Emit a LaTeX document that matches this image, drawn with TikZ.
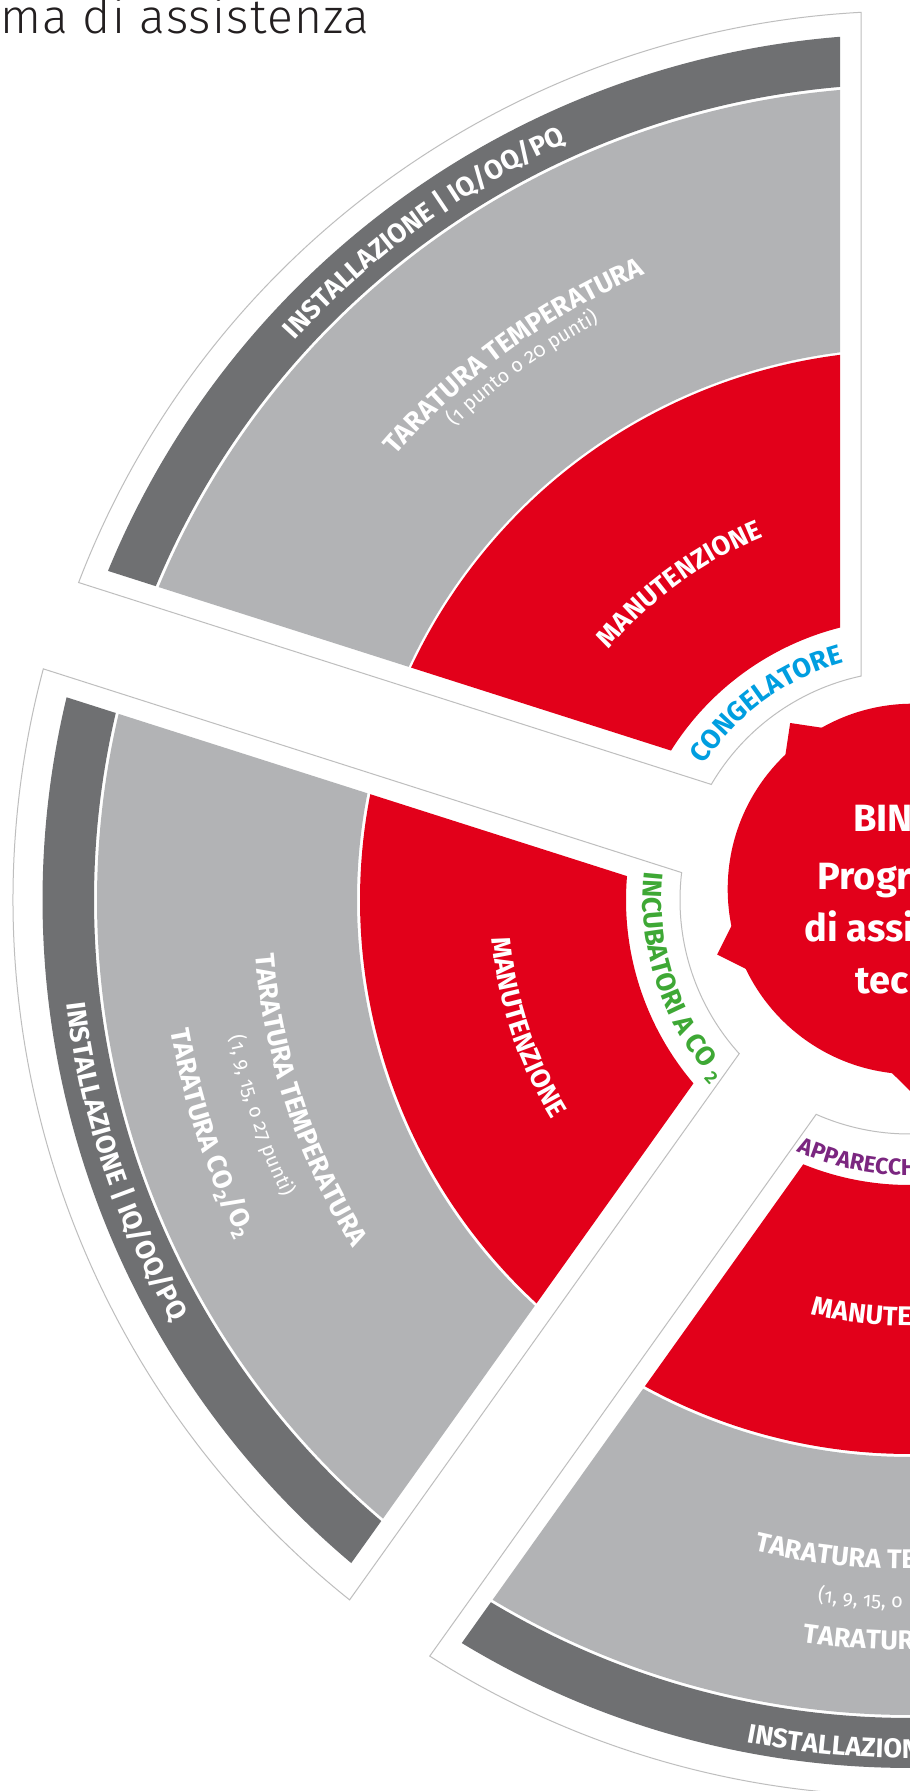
\documentclass[tikz,border=0pt]{standalone}
\usepackage{fontspec}
\setmainfont{Fira Sans}
\newfontfamily\firaold{Fira Sans}[Numbers=OldStyle]
\newfontfamily\titlefont{Fira Sans Light}[LetterSpace=2.5]
\usetikzlibrary{decorations.text}
\definecolor{bred}{RGB}{226,0,26}
\definecolor{bdark}{RGB}{111,112,114}
\definecolor{blight}{RGB}{178,179,181}
\definecolor{bline}{RGB}{190,190,190}
\definecolor{bblue}{RGB}{0,158,224}
\definecolor{bgreen}{RGB}{62,168,53}
\definecolor{bpurple}{RGB}{123,38,128}
\definecolor{titlecol}{RGB}{35,31,32}
\newcommand{\fmtW}{\color{white}\bfseries\fontsize{13.5}{14}\selectfont}
\newcommand{\fmtS}{\color{white}\firaold\fontsize{10}{11}\selectfont}
\newcommand{\fmtB}{\color{bblue}\bfseries\fontsize{13.5}{14}\selectfont}
\newcommand{\fmtGr}{\color{bgreen}\bfseries\fontsize{13.5}{14}\selectfont}
\newcommand{\fmtP}{\color{bpurple}\bfseries\fontsize{11.5}{12}\selectfont}
\newcommand{\subtwo}{\raisebox{-3pt}{\fontsize{9}{9}\selectfont 2}}
% sector shape: #1 style, #2 a1, #3 h1, #4 a2, #5 h2, #6 rin, #7 rout
\newcommand{\secshape}[7]{%
  \pgfmathsetmacro{\secA}{#2+asin(#3/#7)}%
  \pgfmathsetmacro{\secB}{#4-asin(#5/#7)}%
  \pgfmathsetmacro{\secC}{#4-asin(#5/#6)}%
  \pgfmathsetmacro{\secD}{#2+asin(#3/#6)}%
  \path[#1] (\secA:#7) arc[start angle=\secA, end angle=\secB, radius=#7]
     -- (\secC:#6) arc[start angle=\secC, end angle=\secD, radius=#6] -- cycle;}
% text on arc: #1 radius, #2 from, #3 to, #4 align, #5 text
\newcommand{\ctext}[5]{%
  \path[decorate,decoration={text along path,text format delimiters={[}{]},
     text align=#4,text={#5}}] (#2:#1) arc[start angle=#2,end angle=#3,radius=#1];}
\begin{document}
\begin{tikzpicture}[x=0.5pt,y=0.5pt]
\useasboundingbox (-909,-891) rectangle (0,900);
\fill[white] (-909,-891) rectangle (0,900);
\node[anchor=base west,inner sep=0,font=\titlefont\fontsize{24}{25}\selectfont,text=titlecol] (title) at (-909,866.7) {ma di assistenza};

% ---------- top sector: congelatore ----------
\secshape{fill=white,draw=bline,line width=0.5pt}{90}{48}{162.3}{50}{229}{889}
\secshape{fill=bdark}{90}{69}{162.3}{70}{816}{866}
\secshape{fill=blight}{90}{69}{162.3}{70}{552}{813}
\secshape{fill=bred}{90}{69}{162.3}{70}{281}{549.5}
\ctext{831}{175}{77}{center}{[\fmtW]INSTALLAZIONE | IQ/OQ/PQ}
\ctext{679}{175}{77}{center}{[\fmtW]TARATURA TEMPERATURA}
\ctext{656}{175}{77}{center}{[\fmtS](1 punto o 20 punti)}
\ctext{391}{175}{77}{center}{[\fmtW]MANUTENZIONE}
\ctext{246}{175}{77}{center}{[\fmtB]CONGELATORE}

% ---------- left sector: incubatori ----------
\secshape{fill=white,draw=bline,line width=0.5pt}{162.3}{43}{234.5}{49}{229}{896}
\secshape{fill=bdark}{162.3}{63}{234.5}{69}{815}{866.5}
\secshape{fill=blight}{162.3}{63}{234.5}{69}{552}{812}
\secshape{fill=bred}{162.3}{63}{234.5}{69}{283}{549}
\ctext{849}{150}{246.8}{center}{[\fmtW]INSTALLAZIONE | IQ/OQ/PQ}
\ctext{656}{150}{246.8}{center}{[\fmtW]TARATURA TEMPERATURA}
\ctext{693}{150}{246.8}{center}{[\fmtS](1, 9, 15, o 27 punti)}
\ctext{750}{150}{246.8}{center}{[\fmtW]TARATURA CO{\subtwo}/O{\subtwo}}
\ctext{419}{150}{246.8}{center}{[\fmtW]MANUTENZIONE}
\ctext{266}{150}{246.8}{center}{[\fmtGr]INCUBATORI A CO {\subtwo}}

% ---------- bottom sector: apparecchi ----------
\begin{scope}[shift={(0,-5)}]
\secshape{fill=white,draw=bline,line width=0.5pt}{234.5}{46}{305.5}{46}{229}{891}
\secshape{fill=bdark}{234.5}{64.5}{305.5}{64.5}{813}{863}
\secshape{fill=blight}{234.5}{64.5}{305.5}{64.5}{552}{810}
\secshape{fill=bred}{234.5}{64.5}{305.5}{64.5}{280}{549}
\ctext{853}{259}{300}{left}{[\fmtW]INSTALLAZION}
\ctext{664}{256.5}{300}{left}{[\fmtW]TARATURA TE}
\ctext{703}{262.5}{300}{left}{[\fmtS](1, 9, 15, o}
\ctext{745}{261.8}{300}{left}{[\fmtW]TARATUR}
\ctext{421}{256.5}{300}{left}{[\fmtW]MANUTE}
\ctext{270.5}{245.5}{300}{left}{[\fmtP]APPARECCH}
\end{scope}

% ---------- central hub ----------
\begin{scope}[shift={(4,11)}]
\fill[bred] (0,0) circle[radius=185.3];
\foreach \b in {54.5,126.5,198.5,270.5,342.5}
  \fill[bred,rotate=\b] (206.5,0) -- (174.7,31.8) -- (142.9,0) -- (174.7,-31.8) -- cycle;
\end{scope}
\begin{scope}[every node/.style={anchor=base west,inner sep=0,text=white,font=\bfseries\fontsize{19}{20}\selectfont}]
\node (h1) at (-56,68.3) {BIN};
\node (h2) at (-91.7,10) {Progr};
\node (h3) at (-105,-41.7) {di assi};
\node (h4) at (-54,-93.3) {tec};
\end{scope}
\end{tikzpicture}
\end{document}
